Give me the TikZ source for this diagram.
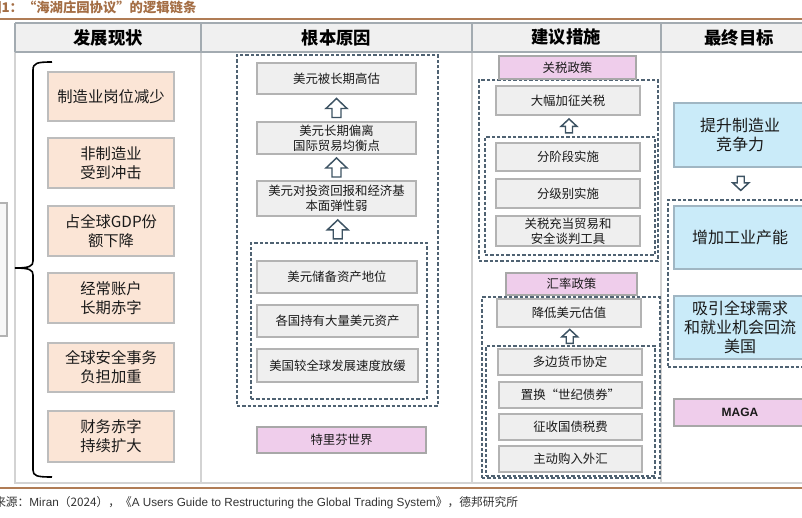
\documentclass[tikz,border=0pt]{standalone}
\usepackage{fontspec}
\setmainfont{Liberation Sans}
\newfontfamily\cjk{Noto Sans CJK SC}
\usetikzlibrary{calc}
\definecolor{brownl}{HTML}{B07C55}
\definecolor{titlec}{HTML}{A46E45}
\definecolor{hdrf}{HTML}{F0F0F0}
\definecolor{hdrl}{HTML}{A3ABB1}
\definecolor{tabl}{HTML}{D3D3D3}
\definecolor{peachf}{HTML}{FBE5D6}
\definecolor{peachd}{HTML}{BDBDBD}
\definecolor{grayf}{HTML}{EFEFEF}
\definecolor{grayd}{HTML}{B3B3B3}
\definecolor{pinkf}{HTML}{EFCDEB}
\definecolor{pinkd}{HTML}{A8A8A8}
\definecolor{bluef}{HTML}{CAEBF9}
\definecolor{blued}{HTML}{A0B6C3}
\definecolor{dashc}{HTML}{4F6272}
\definecolor{arrc}{HTML}{3D5363}
\definecolor{txt}{HTML}{1A1A1A}
\definecolor{srcc}{HTML}{333333}
\newcommand\bx[7]{\node[#6, minimum width={(#4-#2)*0.75pt}, minimum height={(#5-#3)*0.75pt}] (#1) at ({(#2+#4)/2},{(#3+#5)/2}) {#7};}
\tikzset{
 base/.style={inner sep=1pt, align=center, text=txt, line width=0.8pt},
 peach/.style={base, draw=peachd, fill=peachf, font=\cjk\fontsize{11.5}{14.25}\selectfont},
 grayb/.style={base, draw=grayd, fill=grayf, font=\cjk\fontsize{9.3}{11.25}\selectfont},
 pinkb/.style={base, draw=pinkd, fill=pinkf, font=\cjk\fontsize{9.3}{11}\selectfont},
 blueb/.style={base, draw=blued, fill=bluef, font=\cjk\fontsize{12}{14.3}\selectfont},
 dbox/.style={draw=dashc, line width=1pt, dash pattern=on 2.5pt off 1.5pt, inner sep=0pt},
 hollow/.style={draw=arrc, fill=white, line width=1.1pt, line join=miter},
 hdr/.style={font=\cjk\bfseries\fontsize{13}{15}\selectfont, text=black, inner sep=0pt},
 pics/blockup/.style n args={4}{code={
  \draw[hollow] (0,{-#1/2}) -- (#2,{-#1/2+#4}) -- (#3,{-#1/2+#4}) -- (#3,{#1/2}) -- ({-#3},{#1/2}) -- ({-#3},{-#1/2+#4}) -- ({-#2},{-#1/2+#4}) -- cycle;
 }},
}
\begin{document}
\begin{tikzpicture}[x=0.75pt,y=-0.75pt]
\useasboundingbox (0,0) rectangle (802,517);
\clip (0,0) rectangle (802,517);
% title and rules
\node[anchor=west, inner sep=0pt, text=titlec, font=\cjk\bfseries\fontsize{10}{12}\selectfont] (title) at (-12,7) {图1：“海湖庄园协议”的逻辑链条};
\draw[brownl, line width=1.5pt] (0,19) -- (802,19);
\draw[brownl, line width=1.5pt] (0,488) -- (802,488);
% table
\fill[hdrf] (15,23) rectangle (817,52);
\draw[tabl, line width=0.8pt] (15,52) -- (15,483) -- (817,483);
\draw[tabl, line width=0.8pt] (201,52) -- (201,483) (472,52) -- (472,483) (661,52) -- (661,483);
\draw[hdrl, line width=0.9pt] (15,23) -- (817,23) (15,52) -- (817,52) (15,23) -- (15,52) (201,23) -- (201,52) (472,23) -- (472,52) (661,23) -- (661,52);
\node[hdr] (h1) at (108,37.5) {发展现状};
\node[hdr] (h2) at (336.5,37.5) {根本原因};
\node[hdr] (h3) at (566,37.5) {建议措施};
\node[hdr] (h4) at (739,37.5) {最终目标};
% clipped box at far left
\draw[grayd, fill=grayf!50, line width=0.8pt] (-10,203) rectangle (7,336);
% brace
\draw[black, line width=1.2pt] (52,62) .. controls (37,62) and (33,63) .. (33,70) -- (33,261) .. controls (33,266) and (30,268) .. (15,268) .. controls (30,268) and (33,270) .. (33,275) -- (33,470) .. controls (33,476) and (37,477) .. (52,477);
% left column
\bx{l1}{48}{72}{174}{121}{peach}{制造业岗位减少}
\bx{l2}{48}{138}{174}{188}{peach}{非制造业\\受到冲击}
\bx{l3}{48}{206}{174}{256}{peach}{占全球GDP份\\额下降}
\bx{l4}{48}{273}{174}{323}{peach}{经常账户\\长期赤字}
\bx{l5}{48}{343}{174}{392}{peach}{全球安全事务\\负担加重}
\bx{l6}{48}{411}{174}{462}{peach}{财务赤字\\持续扩大}
% middle column
\bx{d1}{237}{55}{438}{406}{dbox}{}
\bx{d2}{251}{243}{427}{399}{dbox}{}
\bx{m1}{257}{63}{416}{94}{grayb}{美元被长期高估}
\bx{m2}{257}{122}{416}{154}{grayb}{美元长期偏离\\国际贸易均衡点}
\bx{m3}{257}{181}{416}{216}{grayb}{美元对投资回报和经济基\\本面弹性弱}
\bx{m4}{257}{261}{417}{293}{grayb}{美元储备资产地位}
\bx{m5}{257}{305}{418}{337}{grayb}{各国持有大量美元资产}
\bx{m6}{257}{349}{418}{382}{grayb}{美国较全球发展速度放缓}
\bx{p1}{257}{427}{426}{453}{pinkb}{特里芬世界}
\pic at ($(m2.north)!0.5!(m1.south)$) {blockup={19}{10.5}{4.5}{10}};
\pic at ($(m3.north)!0.5!(m2.south)$) {blockup={19}{10.5}{4.5}{10}};
\pic at ($(d2.north)!0.5!(m3.south)$) {blockup={19}{10.5}{4.5}{10}};
% column 3
\bx{d3}{479}{80}{658}{261}{dbox}{}
\bx{d4}{485}{137}{655}{255}{dbox}{}
\bx{p2}{499}{56}{636}{79}{pinkb}{关税政策}
\bx{c1}{496}{86}{640}{115}{grayb}{大幅加征关税}
\bx{c2}{496}{143}{640}{171}{grayb}{分阶段实施}
\bx{c3}{496}{179}{640}{208}{grayb}{分级别实施}
\bx{c4}{496}{216}{640}{246}{grayb}{关税充当贸易和\\安全谈判工具}
\pic at ($(d4.north)!0.5!(c1.south)$) {blockup={14}{8}{3.5}{7.5}};
\bx{d5}{482}{297}{660}{478}{dbox}{}
\bx{d6}{486}{346}{655}{476}{dbox}{}
\bx{p3}{506}{273}{637}{295}{pinkb}{汇率政策}
\bx{c5}{497}{299}{641}{327}{grayb}{降低美元估值}
\bx{c6}{498}{349}{642}{375}{grayb}{多边货币协定}
\bx{c7}{499}{382}{642}{408}{grayb}{置换“世纪债券”}
\bx{c8}{499}{414}{642}{440}{grayb}{征收国债税费}
\bx{c9}{499}{446}{642}{472}{grayb}{主动购入外汇}
\pic at ($(d6.north)!0.5!(c5.south)$) {blockup={14}{8}{3.5}{7.5}};
% column 4
\bx{d7}{668}{200}{815}{367}{dbox}{}
\bx{b1}{674}{103}{806}{167}{blueb}{提升制造业\\竞争力}
\bx{b2}{674}{206}{806}{269}{blueb}{增加工业产能}
\bx{b3}{674}{296}{806}{359}{blueb}{吸引全球需求\\和就业机会回流\\美国}
\bx{p4}{674}{399}{806}{426}{pinkb, font=\bfseries\fontsize{9}{11}\selectfont}{MAGA}
\pic[rotate=180] at ($(b1.south)!0.5!(d7.north)$) {blockup={14}{8}{3.5}{7.5}};
% source
\node[anchor=west, inner sep=0pt, text=srcc, font=\fontsize{8.8}{10}\selectfont] (src) at (-6,503) {{\cjk 来源：}Miran{\cjk （2024），《}A Users Guide to Restructuring the Global Trading System{\cjk 》，德邦研究所}};
\end{tikzpicture}
\end{document}
